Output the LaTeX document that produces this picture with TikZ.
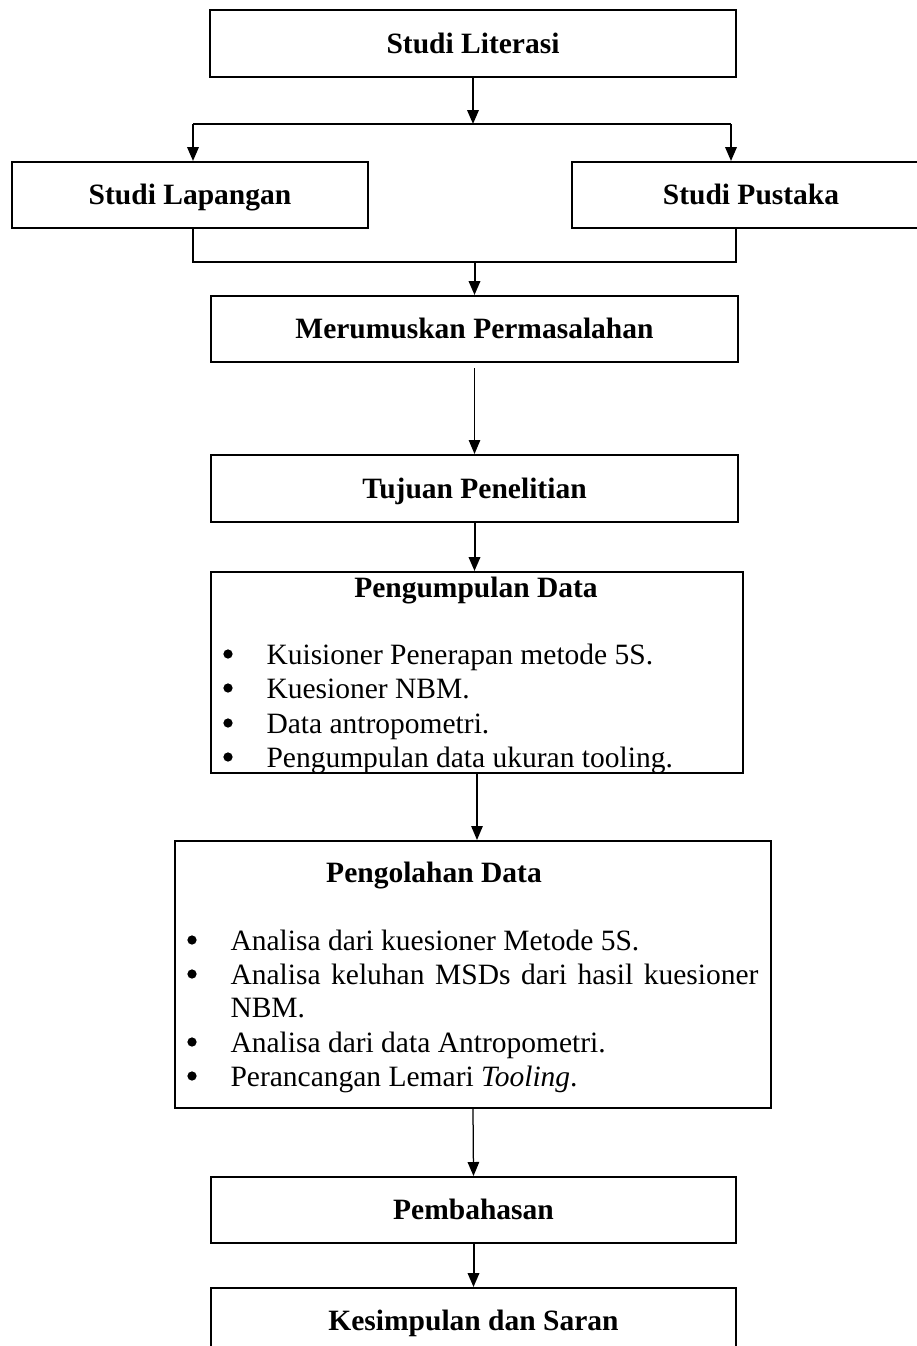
\documentclass[tikz,border=0pt]{standalone}
\usepackage{fontspec}
\setmainfont{Liberation Serif}
\usetikzlibrary{arrows.meta}
\tikzset{
  box/.style={draw, line width=0.8pt, inner sep=0pt, text height=8.3pt, text depth=0.5pt, font=\fontsize{11.8}{13.6}\selectfont\bfseries},
  title/.style={inner sep=0pt, anchor=base, font=\fontsize{11.8}{13.6}\selectfont\bfseries},
  item/.style={inner sep=0pt, anchor=base west, font=\fontsize{11.8}{13.6}\selectfont},
  bul/.style={circle, fill, inner sep=0pt, minimum size=3.7pt},
  conn/.style={line width=0.8pt},
  arr/.style={conn, -{Triangle[length=5.6pt,width=4.6pt]}},
  arrthin/.style={line width=0.5pt, -{Triangle[length=5.6pt,width=4.6pt]}},
}
\begin{document}
\begin{tikzpicture}[x=0.4pt, y=-0.4pt]
\useasboundingbox (0,0) rectangle (917,1346);
\clip (0,0) rectangle (917,1346);

% boxes
\node[box, minimum width=526*0.4pt, minimum height=67*0.4pt] (lit) at (473,43.5) {Studi Literasi};
\node[box, minimum width=356*0.4pt, minimum height=66*0.4pt] (lap) at (190,195) {Studi Lapangan};
\node[box, minimum width=358*0.4pt, minimum height=66*0.4pt] (pus) at (751,195) {Studi Pustaka};
\node[box, minimum width=527*0.4pt, minimum height=66*0.4pt] (mer) at (474.5,329) {Merumuskan Permasalahan};
\node[box, minimum width=527*0.4pt, minimum height=67*0.4pt] (tuj) at (474.5,488.5) {Tujuan Penelitian};
\node[box, minimum width=532*0.4pt, minimum height=201*0.4pt] (pgm) at (477,672.5) {};
\node[box, minimum width=596*0.4pt, minimum height=267*0.4pt] (pgl) at (473,974.5) {};
\node[box, minimum width=525*0.4pt, minimum height=66*0.4pt] (pem) at (473.5,1210) {Pembahasan};
\node[box, minimum width=525*0.4pt, minimum height=66*0.4pt] (kes) at (473.5,1321) {Kesimpulan dan Saran};

% Pengumpulan Data contents
\node[title] (pgmt) at (476,597) {Pengumpulan Data};
\node[bul] (b1) at (228,654) {};
\node[bul] (b2) at (228,688) {};
\node[bul] (b3) at (228,723) {};
\node[bul] (b4) at (228,757) {};
\node[item] (i1) at (266,664) {Kuisioner Penerapan metode 5S.};
\node[item] (i2) at (266,698) {Kuesioner NBM.};
\node[item] (i3) at (266,733) {Data antropometri.};
\node[item] (i4) at (266,767) {Pengumpulan data ukuran tooling.};

% Pengolahan Data contents
\node[title] (pglt) at (434,882) {Pengolahan Data};
\node[bul] (c1) at (192,940) {};
\node[bul] (c2) at (192,974) {};
\node[bul] (c4) at (192,1042) {};
\node[bul] (c5) at (192,1076) {};
\node[item] (j1t) at (230,950) {Analisa dari kuesioner Metode 5S.};
\node[item] (j2t) at (230,984) {\makebox[211.2pt][s]{Analisa keluhan MSDs dari hasil kuesioner}};
\node[item] (j3t) at (230,1017) {NBM.};
\node[item] (j4t) at (230,1052) {Analisa dari data Antropometri.};
\node[item] (j5t) at (230,1086) {Perancangan Lemari \textit{Tooling}.};

% connectors
\coordinate (jl) at (193,124);
\coordinate (jr) at (731,124);
\coordinate (jc) at (473,124);
\draw[arr] (lit.south) -- (jc);
\draw[conn] (jl) -- (jr);
\draw[arr] (jl) -- (jl |- lap.north);
\draw[arr] (jr) -- (jr |- pus.north);

\coordinate (bl) at (193,262);
\coordinate (br) at (736,262);
\coordinate (bc) at (474.5,262);
\draw[conn] (bl |- lap.south) -- (bl) -- (br) -- (br |- pus.south);
\draw[arr] (bc) -- (mer.north);

\draw[arrthin, shorten <=2pt] (mer.south) -- (tuj.north);
\draw[arr] (tuj.south) -- (tuj.south |- pgm.north);
\draw[arrthin] (pgm.south) -- (pgm.south |- pgl.north);
\draw[arrthin] (pgl.south) -- (pem.north);
\draw[arr] (pem.south) -- (kes.north);
\end{tikzpicture}
\end{document}
